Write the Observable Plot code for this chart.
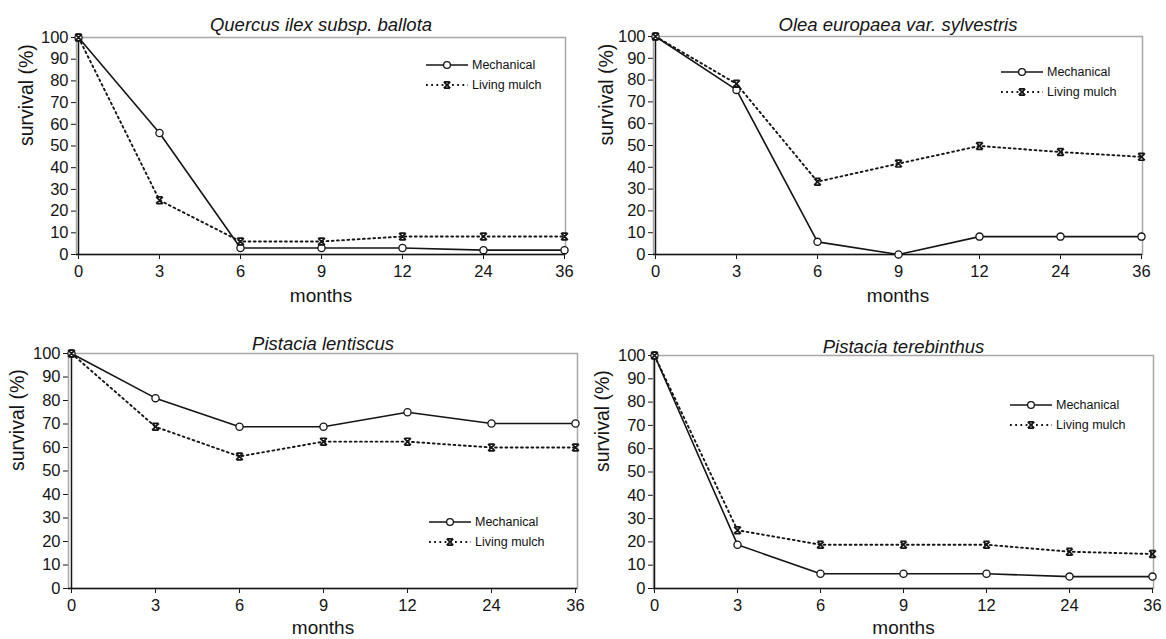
<!DOCTYPE html>
<html>
<head>
<meta charset="utf-8">
<script src="https://cdn.jsdelivr.net/npm/d3@7"></script>
<script src="https://cdn.jsdelivr.net/npm/@observablehq/plot@0.6"></script>
<style>
  body { margin: 0; background: #fff; }
  #root { position: relative; width: 1166px; height: 639px; overflow: hidden; background: #fff;
          font-family: "Liberation Sans", Arial, sans-serif; color: #111; }
  .panel { position: absolute; }
  .legend { position: absolute; font-size: 12.5px; line-height: 20px; }
  .legend .row { display: flex; align-items: center; height: 20px; }
  .legend svg { display: block; margin-right: 2px; }
</style>
</head>
<body>
<div id="root"></div>
<script>
// ---- data ----
const months = ["0", "3", "6", "9", "12", "24", "36"];
const yTicks = [0, 10, 20, 30, 40, 50, 60, 70, 80, 90, 100];
const seriesNames = ["Mechanical", "Living mulch"];
const titles = ["Quercus ilex subsp. ballota", "Olea europaea var. sylvestris", "Pistacia lentiscus", "Pistacia terebinthus"];

const quercusMechanical   = [100, 56, 3, 3, 3, 2, 2];
const quercusLivingMulch  = [100, 25, 6, 6, 8.3, 8.3, 8.3];
const oleaMechanical      = [100, 75.5, 5.8, 0, 8.2, 8.2, 8.2];
const oleaLivingMulch     = [100, 78.3, 33.4, 41.7, 49.8, 47, 44.8];
const lentiscusMechanical = [100, 81, 68.8, 68.8, 75, 70.2, 70.2];
const lentiscusLivingMulch= [100, 68.8, 56.2, 62.5, 62.5, 60, 60];
const terebMechanical     = [100, 18.8, 6.3, 6.3, 6.3, 5.1, 5.1];
const terebLivingMulch    = [100, 25, 18.8, 18.8, 18.8, 15.8, 14.8];

// ---- layout ----
const panels = [
  {title: titles[0], mech: quercusMechanical, live: quercusLivingMulch,
   left: 0, top: 0, width: 583, height: 312, mL: 76, mR: 18, mT: 37, mB: 58,
   titleDy: -20, xLabelDy: 47, yLabelDx: -50, legend: {x: 426, y: 55}},
  {title: titles[1], mech: oleaMechanical, live: oleaLivingMulch,
   left: 583, top: 0, width: 583, height: 312, mL: 70, mR: 24, mT: 36, mB: 58,
   titleDy: -19, xLabelDy: 47, yLabelDx: -47, legend: {x: 1001, y: 62}},
  {title: titles[2], mech: lentiscusMechanical, live: lentiscusLivingMulch,
   left: 0, top: 312, width: 583, height: 327, mL: 68, mR: 6, mT: 41, mB: 51,
   titleDy: -17, xLabelDy: 45, yLabelDx: -51, legend: {x: 429, y: 512}},
  {title: titles[3], mech: terebMechanical, live: terebLivingMulch,
   left: 583, top: 312, width: 583, height: 327, mL: 70, mR: 13, mT: 43, mB: 51,
   titleDy: -16, xLabelDy: 45, yLabelDx: -51, legend: {x: 1010, y: 395}}
];

const ink = "#151515";
const bowtie = {
  draw(ctx, size) {
    const s = Math.sqrt(size / Math.PI);
    ctx.moveTo(-s, -s); ctx.lineTo(s, s);
    ctx.moveTo(s, -s); ctx.lineTo(-s, s);
    ctx.moveTo(-s * 0.9, -s); ctx.lineTo(s * 0.9, -s);
    ctx.moveTo(-s * 0.9, s); ctx.lineTo(s * 0.9, s);
  }
};

const root = document.getElementById("root");

for (const p of panels) {
  const rows = [];
  months.forEach((m, i) => {
    rows.push({month: m, value: p.mech[i], series: seriesNames[0]});
    rows.push({month: m, value: p.live[i], series: seriesNames[1]});
  });
  const mech = rows.filter(d => d.series === seriesNames[0]);
  const live = rows.filter(d => d.series === seriesNames[1]);

  const chart = Plot.plot({
    width: p.width, height: p.height,
    marginLeft: p.mL, marginRight: p.mR, marginTop: p.mT, marginBottom: p.mB,
    style: {fontFamily: "'Liberation Sans', Arial, sans-serif", fontSize: "16.5px", color: ink, background: "transparent", overflow: "visible"},
    x: {type: "point", domain: months, padding: 0, label: null, tickSize: 5, tickPadding: 6},
    y: {domain: [0, 100], ticks: yTicks, label: null, tickSize: 5, tickPadding: 3},
    marks: [
      Plot.frame({stroke: "#a8a8a8", strokeWidth: 1.5}),
      Plot.ruleY([0], {stroke: ink, strokeWidth: 1.5}),
      Plot.ruleX([months[0]], {stroke: ink, strokeWidth: 1.5}),
      Plot.line(live, {x: "month", y: "value", stroke: ink, strokeWidth: 1.9, strokeDasharray: "1.8,3.4"}),
      Plot.line(mech, {x: "month", y: "value", stroke: ink, strokeWidth: 1.6}),
      Plot.dot(mech, {x: "month", y: "value", r: 3.6, fill: "white", stroke: ink, strokeWidth: 1.3}),
      Plot.dot(live, {x: "month", y: "value", r: 3.4, symbol: bowtie, fill: "none", stroke: ink, strokeWidth: 1.7}),
      Plot.text([p.title], {frameAnchor: "top", dy: p.titleDy, fontSize: 18.5, fontStyle: "italic", fill: ink}),
      Plot.text(["months"], {frameAnchor: "bottom", dy: p.xLabelDy, fontSize: 19, fill: ink}),
      Plot.text(["survival (%)"], {frameAnchor: "left", dx: p.yLabelDx, rotate: -90, fontSize: 19.5, fill: ink})
    ]
  });
  const wrap = document.createElement("div");
  wrap.className = "panel";
  wrap.style.left = p.left + "px";
  wrap.style.top = p.top + "px";
  wrap.appendChild(chart);
  root.appendChild(wrap);

  // legend
  const lg = d3.select(root).append("div").attr("class", "legend")
    .style("left", p.legend.x + "px").style("top", p.legend.y + "px");
  seriesNames.forEach((name, k) => {
    const row = lg.append("div").attr("class", "row");
    const svg = row.append("svg").attr("width", 44).attr("height", 20);
    svg.append("line").attr("x1", 0).attr("x2", 42).attr("y1", 10).attr("y2", 10)
      .attr("stroke", ink).attr("stroke-width", k === 0 ? 1.6 : 1.9)
      .attr("stroke-dasharray", k === 0 ? null : "1.8,3.4");
    if (k === 0) {
      svg.append("circle").attr("cx", 21).attr("cy", 10).attr("r", 3.4)
        .attr("fill", "white").attr("stroke", ink).attr("stroke-width", 1.3);
    } else {
      const s = 3.2;
      const path = d3.path();
      bowtie.draw(path, s * s * Math.PI);
      svg.append("path").attr("d", path.toString()).attr("transform", "translate(21,10)")
        .attr("fill", "white").attr("stroke", ink).attr("stroke-width", 1.7);
    }
    row.append("span").text(name);
  });
}
</script>
</body>
</html>
